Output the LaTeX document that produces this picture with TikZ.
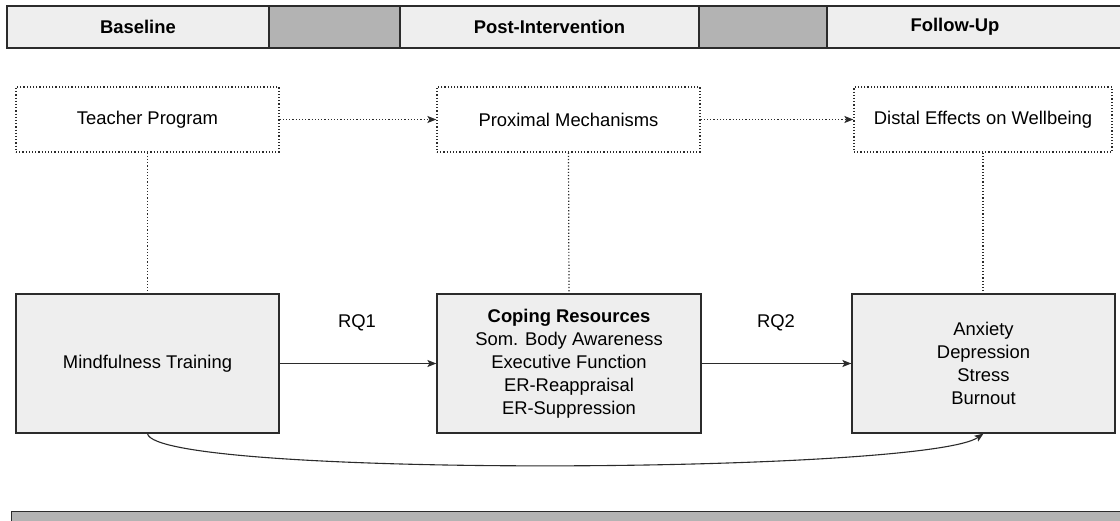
\documentclass[tikz,border=0pt]{standalone}
\usepackage{fontspec}
\setmainfont{Liberation Sans}
\usetikzlibrary{arrows.meta}
\definecolor{boxfill}{HTML}{EEEEEE}
\definecolor{bandgray}{HTML}{B3B3B3}
\definecolor{edge}{HTML}{2B2B2B}
\tikzset{
  txt/.style={font=\fontsize{18.4}{23}\selectfont, align=center, inner sep=0pt},
  cell/.style={draw=edge, line width=1.2pt, fill=boxfill, inner sep=0pt, font=\fontsize{18.4}{23}\selectfont\bfseries},
  graycell/.style={draw=edge, line width=1.2pt, fill=bandgray, inner sep=0pt},
  stagebox/.style={draw=edge, line width=1.2pt, dash pattern=on 1.2pt off 2pt, fill=white, txt},
  mainbox/.style={draw=edge, line width=1.2pt, fill=boxfill, txt},
  dotlink/.style={draw=edge, line width=1.2pt, dash pattern=on 1.2pt off 2pt},
  tip/.style={-{Stealth[length=9pt,width=7pt,inset=2pt]}},
  solidlink/.style={draw=edge, line width=1.2pt},
}
\begin{document}
\begin{tikzpicture}[x=1pt,y=-1pt]
\useasboundingbox (0,0) rectangle (1120,521);
\clip (0,0) rectangle (1120,521);

% time line at the top
\node[cell, minimum width=262pt, minimum height=42pt] (tBase) at (138,27) {Baseline};
\node[graycell, minimum width=131pt, minimum height=42pt] (tGapA) at (334.5,27) {};
\node[cell, minimum width=299pt, minimum height=42pt] (tPost) at (549.5,27) {Post-Intervention};
\node[graycell, minimum width=128pt, minimum height=42pt] (tGapB) at (763,27) {};
\node[cell, minimum width=300pt, minimum height=42pt] (tFollow) at (977,27) {};
\node[txt, font=\fontsize{18.4}{23}\selectfont\bfseries] (tFollowTxt) at (955,27) {Follow-Up};

% conceptual stages
\node[stagebox, minimum width=263pt, minimum height=65pt] (teacher) at (147.5,119.5) {Teacher Program};
\node[stagebox, minimum width=263pt, minimum height=65pt] (proximal) at (568.5,119.5) {Proximal Mechanisms};
\node[stagebox, minimum width=258pt, minimum height=65pt] (distal) at (983,119.5) {Distal Effects on Wellbeing};

% measured constructs
\node[mainbox, minimum width=263pt, minimum height=139pt] (mind) at (147.5,363.5) {Mindfulness Training};
\node[mainbox, minimum width=264pt, minimum height=139pt] (coping) at (569,363.5)
  {\textbf{Coping Resources}\\Som. Body Awareness\\Executive Function\\ER-Reappraisal\\ER-Suppression};
\node[mainbox, minimum width=263pt, minimum height=139pt] (wellbeing) at (983.5,363.5)
  {Anxiety\\Depression\\Stress\\Burnout};

% links between stages
\draw[dotlink, tip] (teacher.east) -- (proximal.west);
\draw[dotlink, tip] (proximal.east) -- (distal.west);
\draw[dotlink] (teacher.south) -- (mind.north);
\draw[dotlink] (proximal.south) -- (coping.north);
\draw[dotlink] (distal.south) -- (distal.south |- wellbeing.north);

% research questions
\draw[solidlink, tip] (mind.east) -- (coping.west);
\draw[solidlink, tip] (coping.east) -- (wellbeing.west);
\node[txt] (rq1) at (357,323) {RQ1};
\node[txt] (rq2) at (776,323) {RQ2};

% direct path
\draw[solidlink, line width=1.1pt, tip] (mind.south) .. controls (155,478) and (925,474) .. (wellbeing.south);

% band at the bottom
\node[graycell, minimum width=1120pt, minimum height=30pt, anchor=north west] (bottomBand) at (11,511) {};
\end{tikzpicture}
\end{document}
